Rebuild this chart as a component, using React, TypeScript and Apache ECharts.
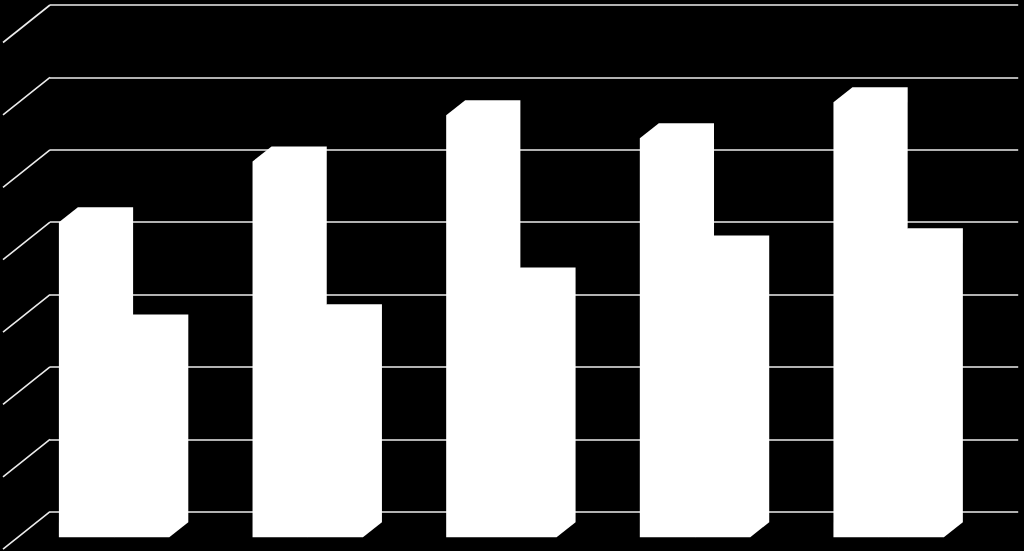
import React, { useEffect, useRef } from "react";
import * as echarts from "echarts";

const categories = ["A", "B", "C", "D", "E"];
const seriesOne = [4.35, 5.19, 5.83, 5.51, 6.01];
const seriesTwo = [2.87, 3.01, 3.52, 3.96, 4.06];
const wallTicks = [0, 1, 2, 3, 4, 5, 6, 7];

const DX = 19;
const DY = 15;
const FLOOR = 25.5; // the bars' footprint sits below the wall's zero line
const BAR_W = 55.2;
const BAR_INSET = 8.9;

function barItem(seriesIndex: number) {
  return (_p: any, api: any) => {
    const cat = api.value(0);
    const val = api.value(1);
    const band = api.size([1, 0])[0];
    const [cx, y0] = api.coord([cat, 0]);
    const [, yv] = api.coord([cat, val]);
    const left = cx - band / 2 + BAR_INSET + seriesIndex * BAR_W;
    const right = left + BAR_W;
    const bottom = y0 + FLOOR;
    const top = yv + FLOOR;
    return {
      type: "polygon",
      shape: {
        points: [
          [left, bottom],
          [right, bottom],
          [right + DX, bottom - DY],
          [right + DX, top - DY],
          [left + DX, top - DY],
          [left, top],
        ],
      },
      style: { fill: "#ffffff", stroke: "none" },
    };
  };
}

function App() {
  const ref = useRef<HTMLDivElement>(null);
  useEffect(() => {
    const chart = echarts.init(ref.current!, null, { renderer: "svg" });
    chart.setOption({
      animation: false,
      backgroundColor: "#000000",
      grid: { left: 50, right: 5.8, top: 5, bottom: 39.3 },
      xAxis: {
        type: "category",
        data: categories,
        axisLine: { show: false },
        axisTick: { show: false },
        axisLabel: { show: false },
        splitLine: { show: false },
      },
      yAxis: {
        type: "value",
        min: 0,
        max: 7,
        interval: 1,
        axisLine: { show: false },
        axisTick: { show: false },
        axisLabel: { show: false },
        splitLine: { show: true, lineStyle: { color: "#ececec", width: 1.6 } },
      },
      series: [
        {
          type: "custom",
          clip: false,
          z: 1,
          silent: true,
          data: wallTicks.map((v) => [0, v]),
          renderItem: (_p: any, api: any) => {
            const [cx, y] = api.coord([0, api.value(1)]);
            const x = cx - api.size([1, 0])[0] / 2;
            return {
              type: "line",
              shape: { x1: x, y1: y, x2: x - 47, y2: y + 37.5 },
              style: { stroke: "#ececec", lineWidth: 1.6 },
            };
          },
        },
        {
          type: "custom",
          clip: false,
          z: 3,
          silent: true,
          data: categories.map((_, i) => [i, seriesTwo[i]]),
          renderItem: barItem(1),
        },
        {
          type: "custom",
          clip: false,
          z: 4,
          silent: true,
          data: categories.map((_, i) => [i, seriesOne[i]]),
          renderItem: barItem(0),
        },
      ],
    });
    return () => chart.dispose();
  }, []);
  return (
    <div
      ref={ref}
      style={{ position: "fixed", left: 0, top: 0, width: 1024, height: 551, background: "#000" }}
    />
  );
}

export default App;
